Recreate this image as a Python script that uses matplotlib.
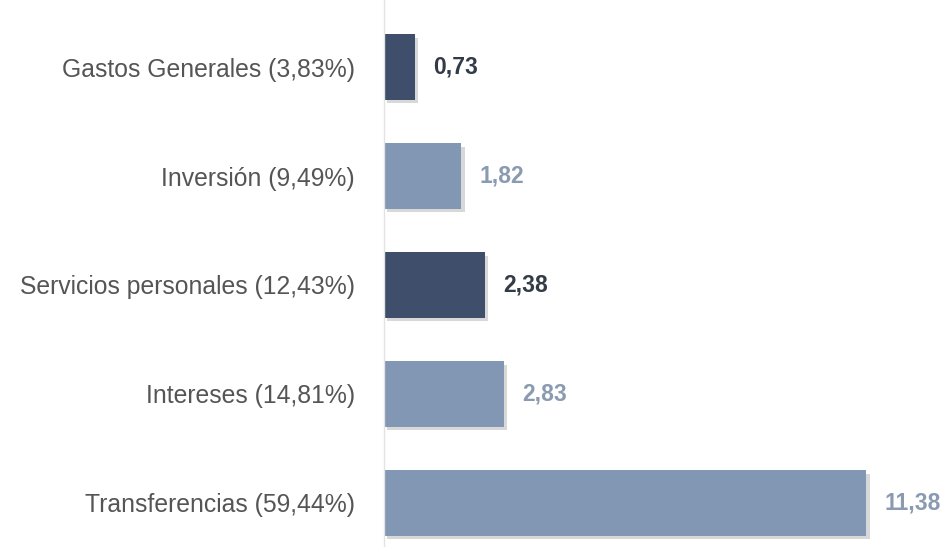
import matplotlib.pyplot as plt
import matplotlib.patheffects as pe

categories = ['Gastos Generales (3,83%)', 'Inversión (9,49%)', 'Servicios personales (12,43%)',
              'Intereses (14,81%)', 'Transferencias (59,44%)']
values = [0.73, 1.82, 2.38, 2.83, 11.38]
value_labels = ['0,73', '1,82', '2,38', '2,83', '11,38']

dark = '#3f4e6a'
light = '#8197b3'
bar_colors = [dark, light, dark, light, light]
text_colors = ['#333b48', '#8a9ab1', '#333b48', '#8a9ab1', '#8a9ab1']

plt.rcParams['font.family'] = ['Liberation Sans', 'DejaVu Sans']

fig = plt.figure(figsize=(9.48, 5.47), dpi=100)
ax = fig.add_axes([0.405, 0.0, 0.581, 1.0])

ypos = list(range(len(categories)))
bars = ax.barh(ypos, values, height=0.6, color=bar_colors, zorder=2)
for b in bars:
    b.set_path_effects([pe.SimplePatchShadow(offset=(2.5, -2.5), shadow_rgbFace='#666666', alpha=0.25),
                        pe.Normal()])

for y, v, lab, c in zip(ypos, values, value_labels, text_colors):
    ax.annotate(lab, (v, y), xytext=(13, 0), textcoords='offset points',
                va='center', ha='left', fontsize=16.5, fontweight='bold', color=c)

ax.set_xlim(0, 13)
ax.set_ylim(4.404, -0.615)
ax.set_yticks(ypos)
ax.set_yticklabels(categories, fontsize=17.8, color='#555555')
ax.tick_params(axis='y', length=0, pad=21)
ax.set_xticks([])
for s in ['top', 'right', 'bottom']:
    ax.spines[s].set_visible(False)
ax.spines['left'].set_color('#e3e3e3')
ax.spines['left'].set_linewidth(1)

fig.savefig('out.png', dpi=100, facecolor='white')
